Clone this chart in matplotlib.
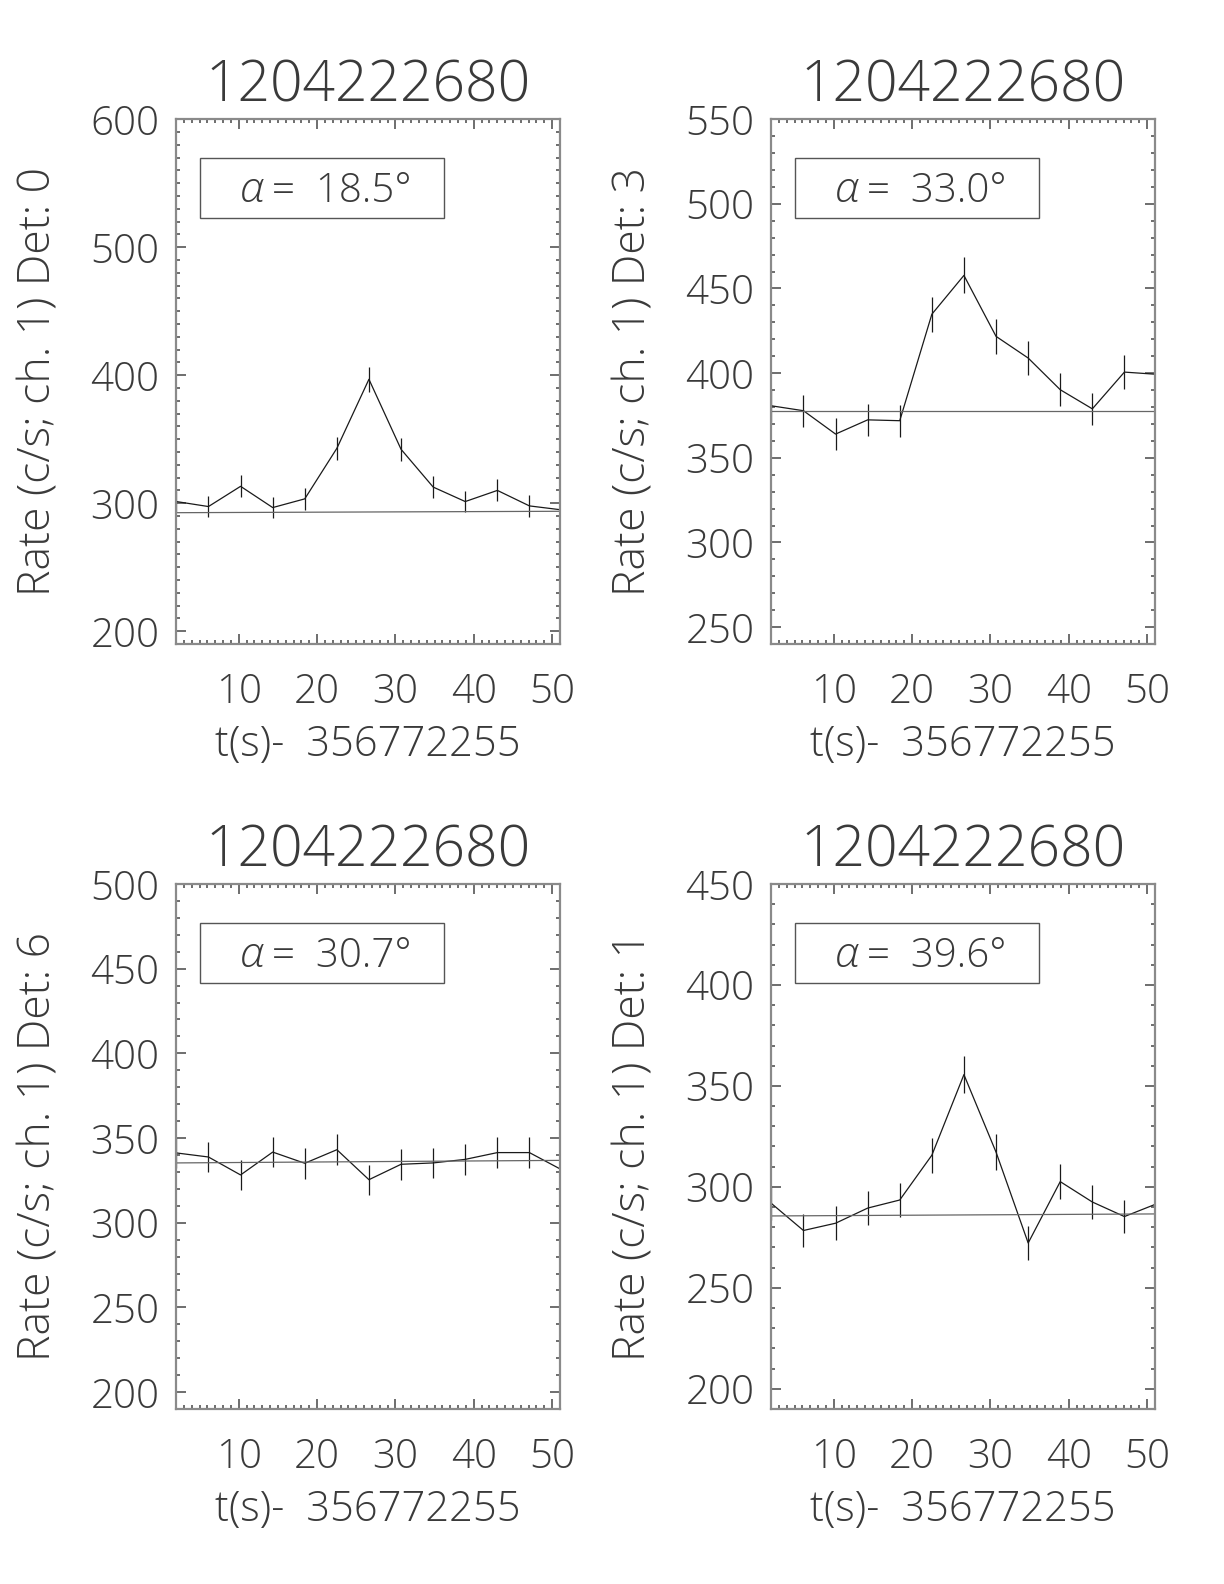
import matplotlib
matplotlib.use('Agg')
import matplotlib.pyplot as plt
import matplotlib.font_manager as fm
from matplotlib.patches import Rectangle
from matplotlib.ticker import MultipleLocator

# time bins (s after 356772255)
t = [2.05, 6.14, 10.24, 14.34, 18.43, 22.53, 26.62, 30.72, 34.82, 38.91, 43.01, 47.10, 51.20]

rate_det0 = [301.3, 297.4, 313.2, 296.6, 303.4, 342.9, 396.8, 342.1, 312.6, 301.3, 310.0, 297.9, 294.8]
err_det0 = [8.5, 8.2, 8.6, 8.4, 8.5, 9.2, 9.9, 8.8, 8.6, 8.5, 8.6, 8.4, 8.4]
bg_det0 = [292.6, 293.7]

rate_det3 = [380.7, 377.8, 364.0, 372.4, 371.9, 434.8, 457.7, 421.7, 408.9, 390.2, 378.9, 400.6, 399.3]
err_det3 = [9.6, 9.4, 9.4, 9.5, 9.5, 10.3, 10.6, 10.3, 10.0, 9.8, 9.4, 10.0, 10.0]
bg_det3 = [377.8, 377.8]

rate_det6 = [341.2, 338.8, 328.2, 341.7, 335.1, 343.1, 325.4, 334.5, 335.3, 337.4, 341.4, 341.4, 331.3]
err_det6 = [9.0, 8.8, 9.1, 9.0, 9.0, 9.2, 8.8, 9.0, 9.0, 9.0, 9.1, 9.1, 9.0]
bg_det6 = [335.3, 336.8]

rate_det1 = [291.8, 278.4, 282.0, 289.5, 293.5, 315.7, 355.6, 317.2, 272.2, 302.6, 292.5, 285.3, 291.6]
err_det1 = [8.4, 8.2, 8.3, 8.4, 8.5, 8.7, 9.2, 8.8, 8.2, 8.7, 8.5, 8.3, 8.4]
bg_det1 = [285.6, 286.6]

bg_t = [2.0, 51.0]
title = "1204222680"
xlabel = "t(s)-  356772255"
detectors = [0, 3, 6, 1]
alphas = [18.5, 33.0, 30.7, 39.6]
ylims = [(190, 600), (240, 550), (190, 500), (190, 450)]
ymajor = [100, 50, 50, 50]

rates = [rate_det0, rate_det3, rate_det6, rate_det1]
errs = [err_det0, err_det3, err_det6, err_det1]
bgs = [bg_det0, bg_det3, bg_det6, bg_det1]


# light, normal-width sans (thin strokes like the IDL vector font)
def lightest(style):
    for name in ('Open Sans', 'Lato', 'Roboto', 'Inter'):
        c = [f for f in fm.fontManager.ttflist
             if f.name == name and f.style == style and f.stretch == 'normal']
        if c:
            return min(c, key=lambda f: abs((f.weight if isinstance(f.weight, int) else 400) - 300))
    return None

light = lightest('normal')
light_it = lightest('italic')


def fp(size, it=False):
    f = light_it if (it and light_it is not None) else light
    if f is None:
        return fm.FontProperties(family='DejaVu Sans', size=size)
    return fm.FontProperties(fname=f.fname, size=size)


txtc = '#3a3a3a'
fig = plt.figure(figsize=(12.24, 15.84), dpi=100)

# axes boxes in figure fractions [left, bottom, width, height]
boxes = [[0.1438, 0.5934, 0.3137, 0.3314],
         [0.6299, 0.5934, 0.3137, 0.3314],
         [0.1438, 0.1105, 0.3137, 0.3314],
         [0.6299, 0.1105, 0.3137, 0.3314]]

for i in range(4):
    ax = fig.add_axes(boxes[i])
    ax.plot(t, rates[i], color='#1a1a1a', lw=0.9)
    ax.errorbar(t, rates[i], yerr=errs[i], fmt='none', ecolor='#1a1a1a', elinewidth=0.9, capsize=0)
    ax.plot(bg_t, bgs[i], color='#666666', lw=0.9)
    ax.set_xlim(2.0, 51.0)
    ax.set_ylim(*ylims[i])

    ax.xaxis.set_major_locator(MultipleLocator(10))
    ax.xaxis.set_minor_locator(MultipleLocator(1))
    ax.yaxis.set_major_locator(MultipleLocator(ymajor[i]))
    ax.yaxis.set_minor_locator(MultipleLocator(10))
    ax.tick_params(which='both', direction='in', top=True, right=True, color='#555555', width=1.2)
    ax.tick_params(which='major', length=7)
    ax.tick_params(which='minor', length=3.2)
    ax.tick_params(axis='x', which='major', pad=20, labelcolor=txtc)
    ax.tick_params(axis='y', which='major', pad=12, labelcolor=txtc)
    for s in ax.spines.values():
        s.set_color('#8a8a8a')
        s.set_linewidth(1.6)

    lo, hi = ylims[i]
    yt = [v for v in range(0, 1000, ymajor[i]) if lo < v <= hi]
    ax.set_yticks(yt)
    ax.set_xticks([10, 20, 30, 40, 50])
    ax.set_xticklabels([str(v) for v in [10, 20, 30, 40, 50]], fontproperties=fp(29))
    ax.set_yticklabels([str(v) for v in yt], fontproperties=fp(29))

    ax.text(0.5, 1.034, title, transform=ax.transAxes, ha='center', va='baseline',
            fontproperties=fp(41), color=txtc)
    ax.text(0.5, -0.214, xlabel, transform=ax.transAxes, ha='center', va='baseline',
            fontproperties=fp(30), color=txtc)
    ax.text(-0.328, 0.5, "Rate (c/s; ch. 1) Det: %d" % detectors[i], transform=ax.transAxes,
            rotation=90, rotation_mode='anchor', ha='center', va='baseline',
            fontproperties=fp(32), color=txtc)

    # alpha box
    ax.add_patch(Rectangle((0.0625, 0.812), 0.635, 0.113, transform=ax.transAxes,
                           fill=False, ec='#555555', lw=1.0))
    ax.text(0.198, 0.842, "α", transform=ax.transAxes, ha='center', va='baseline',
            fontproperties=fp(31, it=True), color=txtc)
    ax.text(0.25, 0.842, "=  %.1f°" % alphas[i], transform=ax.transAxes, ha='left', va='baseline',
            fontproperties=fp(29), color=txtc)

fig.savefig('out.png', dpi=100, facecolor='white')
